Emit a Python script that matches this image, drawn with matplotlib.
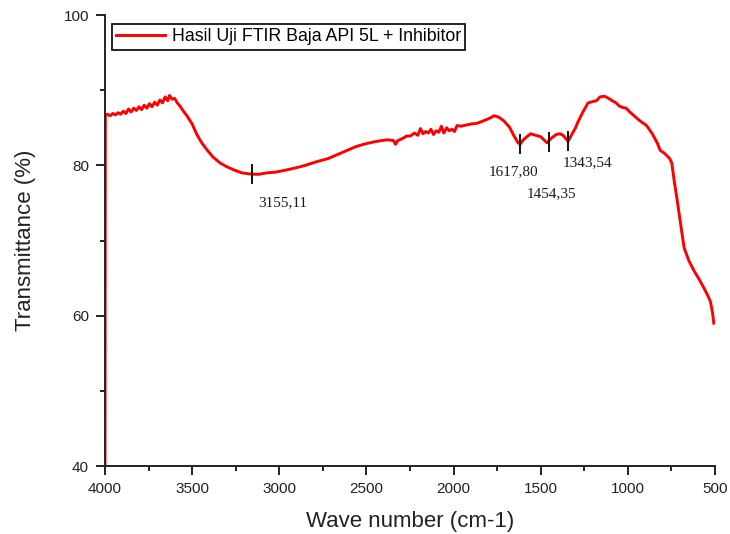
import matplotlib
matplotlib.use("Agg")
import matplotlib.pyplot as plt
from matplotlib.ticker import MultipleLocator

plt.rcParams['font.family'] = ['Liberation Sans', 'DejaVu Sans']

# FTIR spectrum (wave number in cm-1, transmittance in %)
wavenumber = [
    4000, 3998, 3985, 3970, 3955, 3940, 3925, 3910, 3895, 3880, 3865, 3850,
    3835, 3820, 3805, 3790, 3775, 3760, 3745, 3730, 3715, 3700, 3685, 3670,
    3655, 3640, 3630, 3615, 3600, 3585, 3570, 3550, 3530, 3500, 3473, 3445,
    3416, 3380, 3339, 3300, 3262, 3215, 3167, 3120, 3071, 3020, 2956, 2900,
    2850, 2784, 2720, 2630, 2560, 2500, 2439, 2380, 2345, 2333, 2320, 2290,
    2270, 2247, 2225, 2205, 2190, 2175, 2160, 2145, 2130, 2115, 2100, 2085,
    2070, 2056, 2040, 2025, 2010, 1995, 1980, 1960, 1940, 1900, 1864, 1820,
    1790, 1768, 1740, 1711, 1680, 1653, 1630, 1618, 1600, 1580, 1558, 1530,
    1500, 1464, 1440, 1411, 1390, 1372, 1343, 1320, 1300, 1286, 1260, 1229,
    1200, 1180, 1160, 1135, 1110, 1090, 1067, 1050, 1030, 1010, 989, 960,
    930, 893, 860, 830, 815, 790, 760, 748, 734, 718, 705, 690,
    677, 650, 619, 590, 562, 540, 527, 515, 507,
]
transmittance = [
    40.0, 86.6, 86.8, 86.6, 86.9, 86.7, 87.0, 86.8, 87.2, 86.9, 87.5, 87.1,
    87.6, 87.3, 87.8, 87.4, 88.0, 87.6, 88.2, 87.8, 88.4, 88.0, 88.7, 88.3,
    89.1, 88.6, 89.3, 88.8, 88.9, 88.3, 87.9, 87.2, 86.6, 85.5, 84.1, 83.0,
    82.1, 81.1, 80.3, 79.8, 79.4, 79.0, 78.85, 78.8, 79.0, 79.1, 79.4, 79.7,
    80.0, 80.5, 80.9, 81.8, 82.5, 82.9, 83.2, 83.4, 83.3, 82.8, 83.3, 83.6,
    83.9, 83.9, 84.3, 84.0, 84.9, 84.2, 84.5, 84.3, 84.8, 84.1, 84.6, 84.4,
    85.2, 84.3, 85.0, 84.6, 84.8, 84.5, 85.3, 85.2, 85.3, 85.5, 85.6, 86.0,
    86.3, 86.6, 86.4, 85.9, 85.1, 83.9, 83.0, 82.8, 83.4, 83.8, 84.2, 84.0,
    83.8, 83.0, 83.6, 84.1, 84.2, 84.0, 83.2, 84.2, 85.0, 85.8, 87.0, 88.3,
    88.5, 88.6, 89.1, 89.2, 88.9, 88.6, 88.3, 87.9, 87.7, 87.6, 87.1, 86.5,
    85.9, 85.3, 84.2, 82.9, 82.0, 81.6, 80.9, 80.3, 77.9, 75.5, 73.4, 71.0,
    69.0, 67.3, 65.9, 64.8, 63.6, 62.6, 61.9, 60.5, 59.0,
]

# marked absorption peaks
peak_pos = [3155.11, 1617.80, 1454.35, 1343.54]
peak_val = [78.9, 82.9, 83.1, 83.3]
peak_text = ["3155,11", "1617,80", "1454,35", "1343,54"]
# label offsets in points
peak_offset = [(22, -21), (-5, -20), (2, -37), (14, -16)]

fig = plt.figure(figsize=(7.3, 5.34), dpi=100)
ax = fig.add_axes([0.1438, 0.1273, 0.8357, 0.8446])

ax.plot(wavenumber, transmittance, color='#ff0000', lw=2.1,
        label='Hasil Uji FTIR Baja API 5L + Inhibitor')

ax.plot(peak_pos, peak_val, ls='none', marker='|', ms=15, mew=1.3,
        color='black')
for x, y, t, off in zip(peak_pos, peak_val, peak_text, peak_offset):
    ax.annotate(t, (x, y), xytext=off, textcoords='offset points',
                ha='center', va='center', fontsize=11,
                family='Liberation Serif', color='#1a1a1a')

ax.set_xlim(4000, 500)
ax.set_ylim(40, 100)
ax.xaxis.set_major_locator(MultipleLocator(500))
ax.xaxis.set_minor_locator(MultipleLocator(250))
ax.yaxis.set_major_locator(MultipleLocator(20))
ax.yaxis.set_minor_locator(MultipleLocator(10))

for s in ['top', 'right']:
    ax.spines[s].set_visible(False)
for s in ['left', 'bottom']:
    ax.spines[s].set_linewidth(1.4)
    ax.spines[s].set_color('#222222')
ax.tick_params(which='major', direction='out', length=6.5, width=1.4,
               labelsize=11, pad=5, colors='#222222', labelcolor='#222222')
ax.tick_params(which='minor', direction='out', length=3.6, width=1.4,
               colors='#222222')

ax.set_xlabel('Wave number (cm-1)', fontsize=16, color='#222222', labelpad=11)
ax.set_ylabel('Transmittance (%)', fontsize=16, color='#222222', labelpad=20)

ax.legend(loc='upper left', bbox_to_anchor=(0.0115, 0.98), fontsize=12.8,
          frameon=True, fancybox=False, edgecolor='black', framealpha=1,
          handlelength=2.75, handletextpad=0.35, borderpad=0.25,
          borderaxespad=0)
ax.get_legend().get_frame().set_linewidth(1.2)

fig.savefig('out.png', dpi=100)
